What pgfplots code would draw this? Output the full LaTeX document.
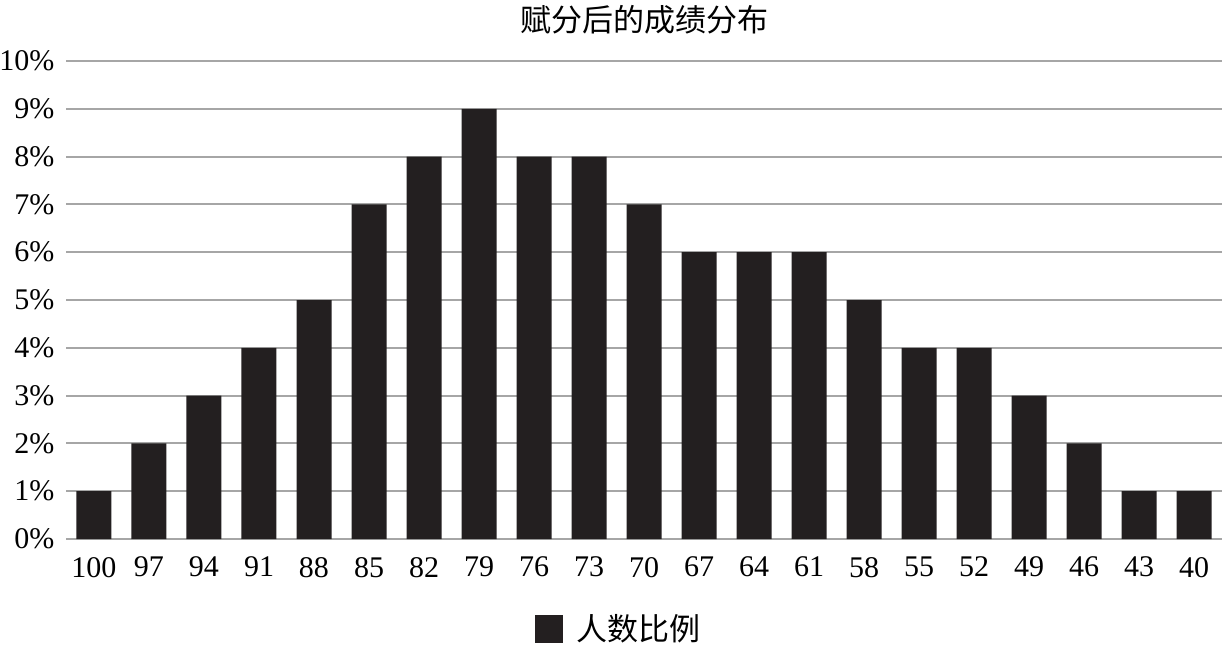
\documentclass[border=0pt]{standalone}
\usepackage{pgfplots}
\pgfplotsset{compat=1.18}
\usepackage{fontspec}
\setmainfont{Liberation Serif}
\newfontfamily\cjk{Noto Sans CJK SC}
\definecolor{barc}{HTML}{231F20}
\definecolor{gridc}{HTML}{A6A6A6}
\begin{document}
\begin{tikzpicture}
\useasboundingbox (-33.25pt,-53pt) rectangle (577.75pt,269.5pt);
\begin{axis}[
  at={(0,0)}, anchor=south west,
  scale only axis, width=577.5pt, height=239pt,
  font=\fontsize{15pt}{18pt}\selectfont,
  ybar, bar width=17.5pt, bar shift=0pt,
  xmin=-0.5, xmax=20.5, ymin=0, ymax=10,
  xtick={0,...,20},
  xticklabels={100,97,94,91,88,85,82,79,76,73,70,67,64,61,58,55,52,49,46,43,40},
  ytick={0,...,10},
  yticklabel={\pgfmathprintnumber{\tick}\%},
  /pgf/number format/assume math mode=true,
  major tick length=0pt,
  axis x line*=bottom, axis y line*=left,
  x axis line style={gridc, line width=1pt, -},
  y axis line style={draw=none},
  ymajorgrids, grid style={gridc, line width=1pt},
  xticklabel style={yshift=-5.5pt},
  yticklabel style={xshift=-2.5pt},
  title={\cjk 赋分后的成绩分布},
  title style={at={(0.5,1.09)}, anchor=center, yshift=-7pt, font=\fontsize{15.5pt}{18pt}\selectfont},
  legend style={at={(0.479,-0.188)}, anchor=center, draw=none, fill=none,
    font=\fontsize{15.5pt}{18pt}\selectfont},
  legend image code/.code={\fill[barc] (0pt,-7pt) rectangle (14pt,7pt); \path (19pt,0pt);},
]
\addplot[fill=barc, draw=none] coordinates {
(0,1) (1,2) (2,3) (3,4) (4,5) (5,7) (6,8) (7,9) (8,8) (9,8) (10,7)
(11,6) (12,6) (13,6) (14,5) (15,4) (16,4) (17,3) (18,2) (19,1) (20,1)};
\addlegendentry{\cjk 人数比例}
\end{axis}
\end{tikzpicture}
\end{document}
